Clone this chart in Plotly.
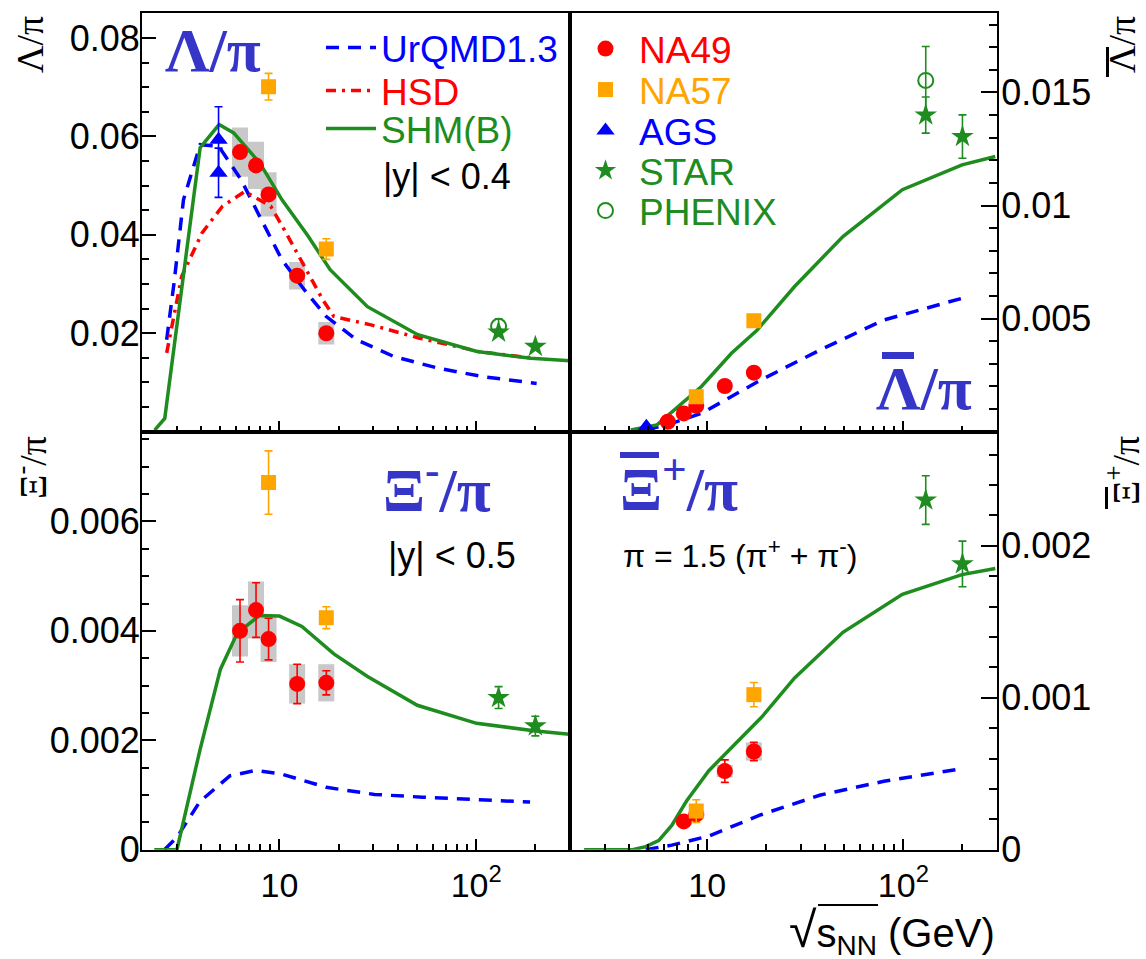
import plotly.graph_objects as go

W, H = 1146, 959

# ---------------- data ----------------
E_NA49 = [6.3, 7.6, 8.8, 12.3, 17.3]
E_NA57 = [8.8, 17.3]
E_AGS = [4.9, 4.9]
E_STAR = [130, 200]
E_PHENIX = [130]

# Lambda / pi  (top-left)
lam_na49 = [0.0568, 0.0541, 0.0482, 0.0317, 0.0200]
lam_na49_sys = [0.0050, 0.0048, 0.0045, 0.0028, 0.0023]
lam_na57 = [0.0701, 0.0371]
lam_na57_err = [0.0027, 0.0021]
lam_ags = [0.0593, 0.0526]
lam_ags_err = [0.0067, 0.0050]
lam_star = [0.0202, 0.0173]
lam_star_err = [0.0006, 0.0006]
lam_phenix = [0.0214]
lam_phenix_err = [0.0015]
lam_shm_E = [2.32, 2.61, 3.95, 4.93, 5.85, 7.94, 10.3, 14.0, 18.1, 28.0, 50.5, 101, 190, 300]
lam_shm = [0.0003, 0.0027, 0.0577, 0.0624, 0.0607, 0.0546, 0.0471, 0.0397, 0.0329, 0.0254, 0.0197, 0.0163, 0.0149, 0.0144]
lam_urqmd_E = [2.67, 2.91, 3.25, 3.95, 4.91, 6.38, 7.94, 10.3, 13.4, 17.3, 24.6, 38, 64, 108, 203]
lam_urqmd = [0.0187, 0.0302, 0.0471, 0.0583, 0.0580, 0.0512, 0.0437, 0.0349, 0.0288, 0.0234, 0.0187, 0.0153, 0.0129, 0.0112, 0.0098]
lam_hsd_E = [2.67, 3.18, 4.04, 5.13, 6.66, 9.03, 10.8, 13.4, 16.6, 18.9, 29.2, 51.5, 103, 198]
lam_hsd = [0.0160, 0.0315, 0.0404, 0.0458, 0.0488, 0.0458, 0.0404, 0.0336, 0.0268, 0.0234, 0.0217, 0.0190, 0.0163, 0.0149]

# anti-Lambda / pi  (top-right)
alam_na49 = [0.00044, 0.00081, 0.00114, 0.00202, 0.00261]
alam_na57 = [0.00155, 0.00491]
alam_ags_E = [4.9]
alam_ags = [0.00022]
alam_star = [0.01400, 0.01305]
alam_star_err = [0.00080, 0.00096]
alam_phenix = [0.01553]
alam_phenix_err = [0.00150]
alam_shm_E = [4.08, 5.55, 9.35, 13.3, 18.0, 27.9, 49.2, 98.8, 199, 294]
alam_shm = [0.00008, 0.0003, 0.0020, 0.00347, 0.0045, 0.00642, 0.00863, 0.0107, 0.0118, 0.01217]
alam_urqmd_E = [4.87, 6.6, 9.35, 18.8, 37.8, 79.5, 199]
alam_urqmd = [0.00008, 0.00037, 0.00081, 0.00229, 0.00362, 0.00494, 0.0059]

# Xi- / pi  (bottom-left)
xi_na49 = [0.00400, 0.00438, 0.00385, 0.00303, 0.00305]
xi_na49_err = [0.00057, 0.00050, 0.00038, 0.00036, 0.00022]
xi_na49_sys = [0.00047, 0.00052, 0.00042, 0.00036, 0.00034]
xi_na57 = [0.00671, 0.00424]
xi_na57_err = [0.00058, 0.00020]
xi_star = [0.00278, 0.00226]
xi_star_err = [0.00020, 0.00018]
xi_shm_E = [2.31, 3.01, 3.94, 5.01, 6.1, 7.9, 10.0, 13.0, 18.9, 27.9, 50.2, 100.5, 201, 298]
xi_shm = [0.0, 0.0, 0.00182, 0.0033, 0.00396, 0.00428, 0.00427, 0.00408, 0.00358, 0.00317, 0.00264, 0.00231, 0.00217, 0.00211]
xi_urqmd_E = [2.6, 3.0, 3.94, 5.59, 7.6, 10.3, 17.3, 30.4, 53.5, 102.6, 188]
xi_urqmd = [0.0, 0.00022, 0.00088, 0.00135, 0.00145, 0.00138, 0.00114, 0.00101, 0.00096, 0.00092, 0.00087]

# anti-Xi+ / pi  (bottom-right)
axi_na49_E = [7.6, 8.8, 12.3, 17.3]
axi_na49 = [0.000186, 0.000232, 0.000517, 0.000646]
axi_na49_err = [0.00003, 0.00003, 0.000074, 0.00006]
axi_na49_sys = [0.00002, 0.00002, 0.00004, 0.00006]
axi_na57 = [0.000254, 0.00102]
axi_na57_err = [0.000075, 0.00008]
axi_star = [0.00230, 0.00188]
axi_star_err = [0.00016, 0.00015]
axi_shm_E = [2.36, 4.17, 4.86, 5.66, 6.6, 7.85, 10.2, 13.9, 19.2, 27.9, 49.2, 98.8, 199, 294]
axi_shm = [0.0, 0.0, 0.00002, 0.00006, 0.00016, 0.00032, 0.00052, 0.0007, 0.00088, 0.00113, 0.00143, 0.00168, 0.00181, 0.00185]
axi_urqmd_E = [4.86, 6.6, 10.2, 18.8, 37.8, 79.5, 191]
axi_urqmd = [0.0, 0.00003, 0.00009, 0.00023, 0.00036, 0.00045, 0.00053]

# ---------------- style ----------------
RED = "#ff0000"
ORANGE = "#ffa500"
BLUE = "#0000ff"
GREEN = "#1e8c1e"
TITLEBLUE = "#3535c8"
GREY = "#c8c8c8"
SANS = "Liberation Sans, Arial, sans-serif"
SERIF = "Liberation Serif, Times New Roman, serif"

fig = go.Figure()
PA = ("x", "y")
PB = ("x2", "y2")
PC = ("x3", "y3")
PD = ("x4", "y4")


def sysbox(p, x, y, s):
    fig.add_trace(go.Scatter(x=x, y=y, xaxis=p[0], yaxis=p[1], mode="markers",
                             marker=dict(size=1, opacity=0),
                             error_y=dict(type="data", array=s, color=GREY, thickness=16, width=0),
                             showlegend=False, hoverinfo="skip"))


def curve(p, x, y, color, dash, name=None, legend=None):
    fig.add_trace(go.Scatter(x=x, y=y, xaxis=p[0], yaxis=p[1], mode="lines",
                             line=dict(color=color, width=3.5, dash=dash),
                             name=name, showlegend=legend is not None,
                             legend=legend or "legend", hoverinfo="skip"))


def points(p, x, y, err, color, symbol, size, name=None, legend=None, lw=0):
    ey = None
    if err is not None:
        ey = dict(type="data", array=err, color=color, thickness=1.6, width=4)
    fig.add_trace(go.Scatter(x=x, y=y, xaxis=p[0], yaxis=p[1], mode="markers",
                             marker=dict(color=color, symbol=symbol, size=size,
                                         line=dict(color=color, width=lw)),
                             error_y=ey, name=name, showlegend=legend is not None,
                             legend=legend or "legend", hoverinfo="skip"))


URQ_DASH = "13px,9px"
HSD_DASH = "10px,6px,3px,6px"

# Panel A
sysbox(PA, E_NA49, lam_na49, lam_na49_sys)
curve(PA, lam_urqmd_E, lam_urqmd, BLUE, URQ_DASH, "<span style='color:#0000ff'>UrQMD1.3</span>", "legend")
curve(PA, lam_hsd_E, lam_hsd, RED, HSD_DASH, "<span style='color:#ff0000'>HSD</span>", "legend2")
curve(PA, lam_shm_E, lam_shm, GREEN, "solid", "<span style='color:#1e8c1e'>SHM(B)</span>", "legend3")
points(PA, E_NA49, lam_na49, None, RED, "circle", 16, "<span style='color:#ff0000'>NA49</span>", "legend4")
points(PA, E_NA57, lam_na57, lam_na57_err, ORANGE, "square", 15, "<span style='color:#ffa500'>NA57</span>", "legend5")
points(PA, E_AGS, lam_ags, lam_ags_err, BLUE, "triangle-up", 16, "<span style='color:#0000ff'>AGS</span>", "legend6")
points(PA, E_STAR, lam_star, lam_star_err, GREEN, "star", 17, "<span style='color:#1e8c1e'>STAR</span>", "legend7")
points(PA, E_PHENIX, lam_phenix, lam_phenix_err, GREEN, "circle-open", 15, "<span style='color:#1e8c1e'>PHENIX</span>", "legend8", lw=2)

# Panel B
curve(PB, alam_urqmd_E, alam_urqmd, BLUE, URQ_DASH)
curve(PB, alam_shm_E, alam_shm, GREEN, "solid")
points(PB, E_NA49, alam_na49, None, RED, "circle", 16)
points(PB, E_NA57, alam_na57, None, ORANGE, "square", 15)
points(PB, alam_ags_E, alam_ags, None, BLUE, "triangle-up", 16)
points(PB, E_STAR, alam_star, alam_star_err, GREEN, "star", 17)
points(PB, E_PHENIX, alam_phenix, alam_phenix_err, GREEN, "circle-open", 15, lw=2)

# Panel C
sysbox(PC, E_NA49, xi_na49, xi_na49_sys)
curve(PC, xi_urqmd_E, xi_urqmd, BLUE, URQ_DASH)
curve(PC, xi_shm_E, xi_shm, GREEN, "solid")
points(PC, E_NA49, xi_na49, xi_na49_err, RED, "circle", 16)
points(PC, E_NA57, xi_na57, xi_na57_err, ORANGE, "square", 15)
points(PC, E_STAR, xi_star, xi_star_err, GREEN, "star", 17)

# Panel D
sysbox(PD, axi_na49_E, axi_na49, axi_na49_sys)
curve(PD, axi_urqmd_E, axi_urqmd, BLUE, URQ_DASH)
curve(PD, axi_shm_E, axi_shm, GREEN, "solid")
points(PD, axi_na49_E, axi_na49, axi_na49_err, RED, "circle", 16)
points(PD, E_NA57, axi_na57, axi_na57_err, ORANGE, "square", 15)
points(PD, E_STAR, axi_star, axi_star_err, GREEN, "star", 17)

# ---------------- axes ----------------
XL = [142 / W, 570 / W]
XR = [570 / W, 997 / W]
YT = [1 - 431.7 / H, 1 - 13.3 / H]
YB = [1 - 849.7 / H, 1 - 431.7 / H]
xminor = [2, 3, 4, 5, 6, 7, 8, 9, 20, 30, 40, 50, 60, 70, 80, 90, 200, 300]


def xaxis(domain, anchor, labels):
    return dict(type="log", range=[0.30103, 2.4771], domain=domain, anchor=anchor,
                showline=True, mirror=True, linecolor="black", linewidth=2,
                ticks="inside", ticklen=11, tickwidth=2, tickcolor="black",
                tickmode="array", tickvals=[10, 100], ticktext=["10", "10<sup>2</sup>"],
                showticklabels=labels, tickfont=dict(family=SANS, size=34, color="black"),
                ticklabelstandoff=4, automargin=False,
                minor=dict(tickmode="array", tickvals=xminor, ticks="inside", ticklen=6,
                           tickwidth=2, tickcolor="black"),
                showgrid=False, zeroline=False, fixedrange=True)


def yaxis(domain, anchor, rng, vals, text, mdt, side, maj, standoff):
    return dict(range=rng, domain=domain, anchor=anchor, side=side,
                showline=True, mirror=True, linecolor="black", linewidth=2,
                ticks="inside", ticklen=maj, tickwidth=2, tickcolor="black",
                tickmode="array", tickvals=vals, ticktext=text,
                tickfont=dict(family=SANS, size=36, color="black"),
                ticklabelstandoff=standoff, automargin=False,
                minor=dict(tickmode="linear", tick0=0, dtick=mdt, ticks="inside",
                           ticklen=maj / 2, tickwidth=2, tickcolor="black"),
                showgrid=False, zeroline=False, fixedrange=True)


def leg(px, py_top, itemwidth):
    return dict(x=px / W, y=1 - py_top / H, xanchor="left", yanchor="top",
                bgcolor="rgba(0,0,0,0)", borderwidth=0,
                font=dict(family=SANS, size=37, color="black"),
                itemwidth=itemwidth, tracegroupgap=0)


fig.update_layout(
    width=W, height=H,
    margin=dict(l=0, r=0, t=0, b=0, autoexpand=False),
    paper_bgcolor="white", plot_bgcolor="white",
    xaxis=xaxis(XL, "y", False),
    xaxis2=xaxis(XR, "y2", False),
    xaxis3=xaxis(XL, "y3", True),
    xaxis4=xaxis(XR, "y4", True),
    yaxis=yaxis(YT, "x", [0, 0.085], [0.02, 0.04, 0.06, 0.08], ["0.02", "0.04", "0.06", "0.08"], 0.005, "left", 14, -7),
    yaxis2=yaxis(YT, "x2", [0, 0.0185], [0.005, 0.01, 0.015], ["0.005", "0.01", "0.015"], 0.001, "right", 16, -5),
    yaxis3=yaxis(YB, "x3", [0, 0.00764], [0, 0.002, 0.004, 0.006], ["0", "0.002", "0.004", "0.006"], 0.0005, "left", 14, -7),
    yaxis4=yaxis(YB, "x4", [0, 0.00275], [0, 0.001, 0.002], ["0", "0.001", "0.002"], 0.0002, "right", 16, -5),
    legend=leg(321, 17, 50),
    legend2=leg(321, 60, 50),
    legend3=leg(321, 98, 50),
    legend4=leg(572, 18, 57),
    legend5=leg(572, 59, 57),
    legend6=leg(572, 100, 57),
    legend7=leg(572, 140, 57),
    legend8=leg(572, 180, 57),
    showlegend=True,
)


def ann(text, px, py, size, color="black", family=SANS, xanchor="left", yanchor="middle", angle=0):
    fig.add_annotation(text=text, x=px / W, y=1 - py / H, xref="paper", yref="paper",
                       xanchor=xanchor, yanchor=yanchor, showarrow=False, textangle=angle,
                       font=dict(family=family, size=size, color=color))


def bar(x0, y0, x1, y1, color):
    fig.add_shape(type="rect", xref="paper", yref="paper",
                  x0=x0 / W, x1=x1 / W, y0=1 - y0 / H, y1=1 - y1 / H,
                  fillcolor=color, line=dict(width=0), layer="above")


# panel titles
ann("<b>Λ/π</b>", 163, 50, 62, TITLEBLUE, SERIF)
ann("<b>Λ/π</b>", 874, 388, 62, TITLEBLUE, SERIF)
bar(882, 352, 914, 359, TITLEBLUE)
ann("<b>Ξ<sup>-</sup>/π</b>", 381, 485, 62, TITLEBLUE, SERIF)
ann("<b>Ξ<sup>+</sup>/π</b>", 618, 484, 62, TITLEBLUE, SERIF)
bar(620, 452, 659, 458, TITLEBLUE)
ann("|y| < 0.4", 381, 176, 36)
ann("|y| < 0.5", 386, 555, 36)
ann("π = 1.5 (π<sup>+</sup> + π<sup>-</sup>)", 621, 554, 32)

# axis titles
ann("Λ/π", 30, 45, 38, family=SERIF, xanchor="center", yanchor="middle", angle=-90)
ann("Ξ<sup>-</sup>/π", 30, 468, 38, family=SERIF, xanchor="center", yanchor="middle", angle=-90)
ann("Λ/π", 1122, 45, 38, family=SERIF, xanchor="center", yanchor="middle", angle=-90)
bar(1106, 47, 1109, 77, "black")
ann("Ξ<sup>+</sup>/π", 1123, 471, 38, family=SERIF, xanchor="center", yanchor="middle", angle=-90)
bar(1105, 487, 1108, 509, "black")
ann("<span style='font-size:50px'>√</span>s<sub>NN</sub> (GeV)", 997, 931, 40, xanchor="right", yanchor="middle")
bar(818, 904, 878, 906, "black")

fig.write_html("out.html", config={"displayModeBar": False},
               post_script="document.documentElement.style.margin='0';document.body.style.margin='0';")
